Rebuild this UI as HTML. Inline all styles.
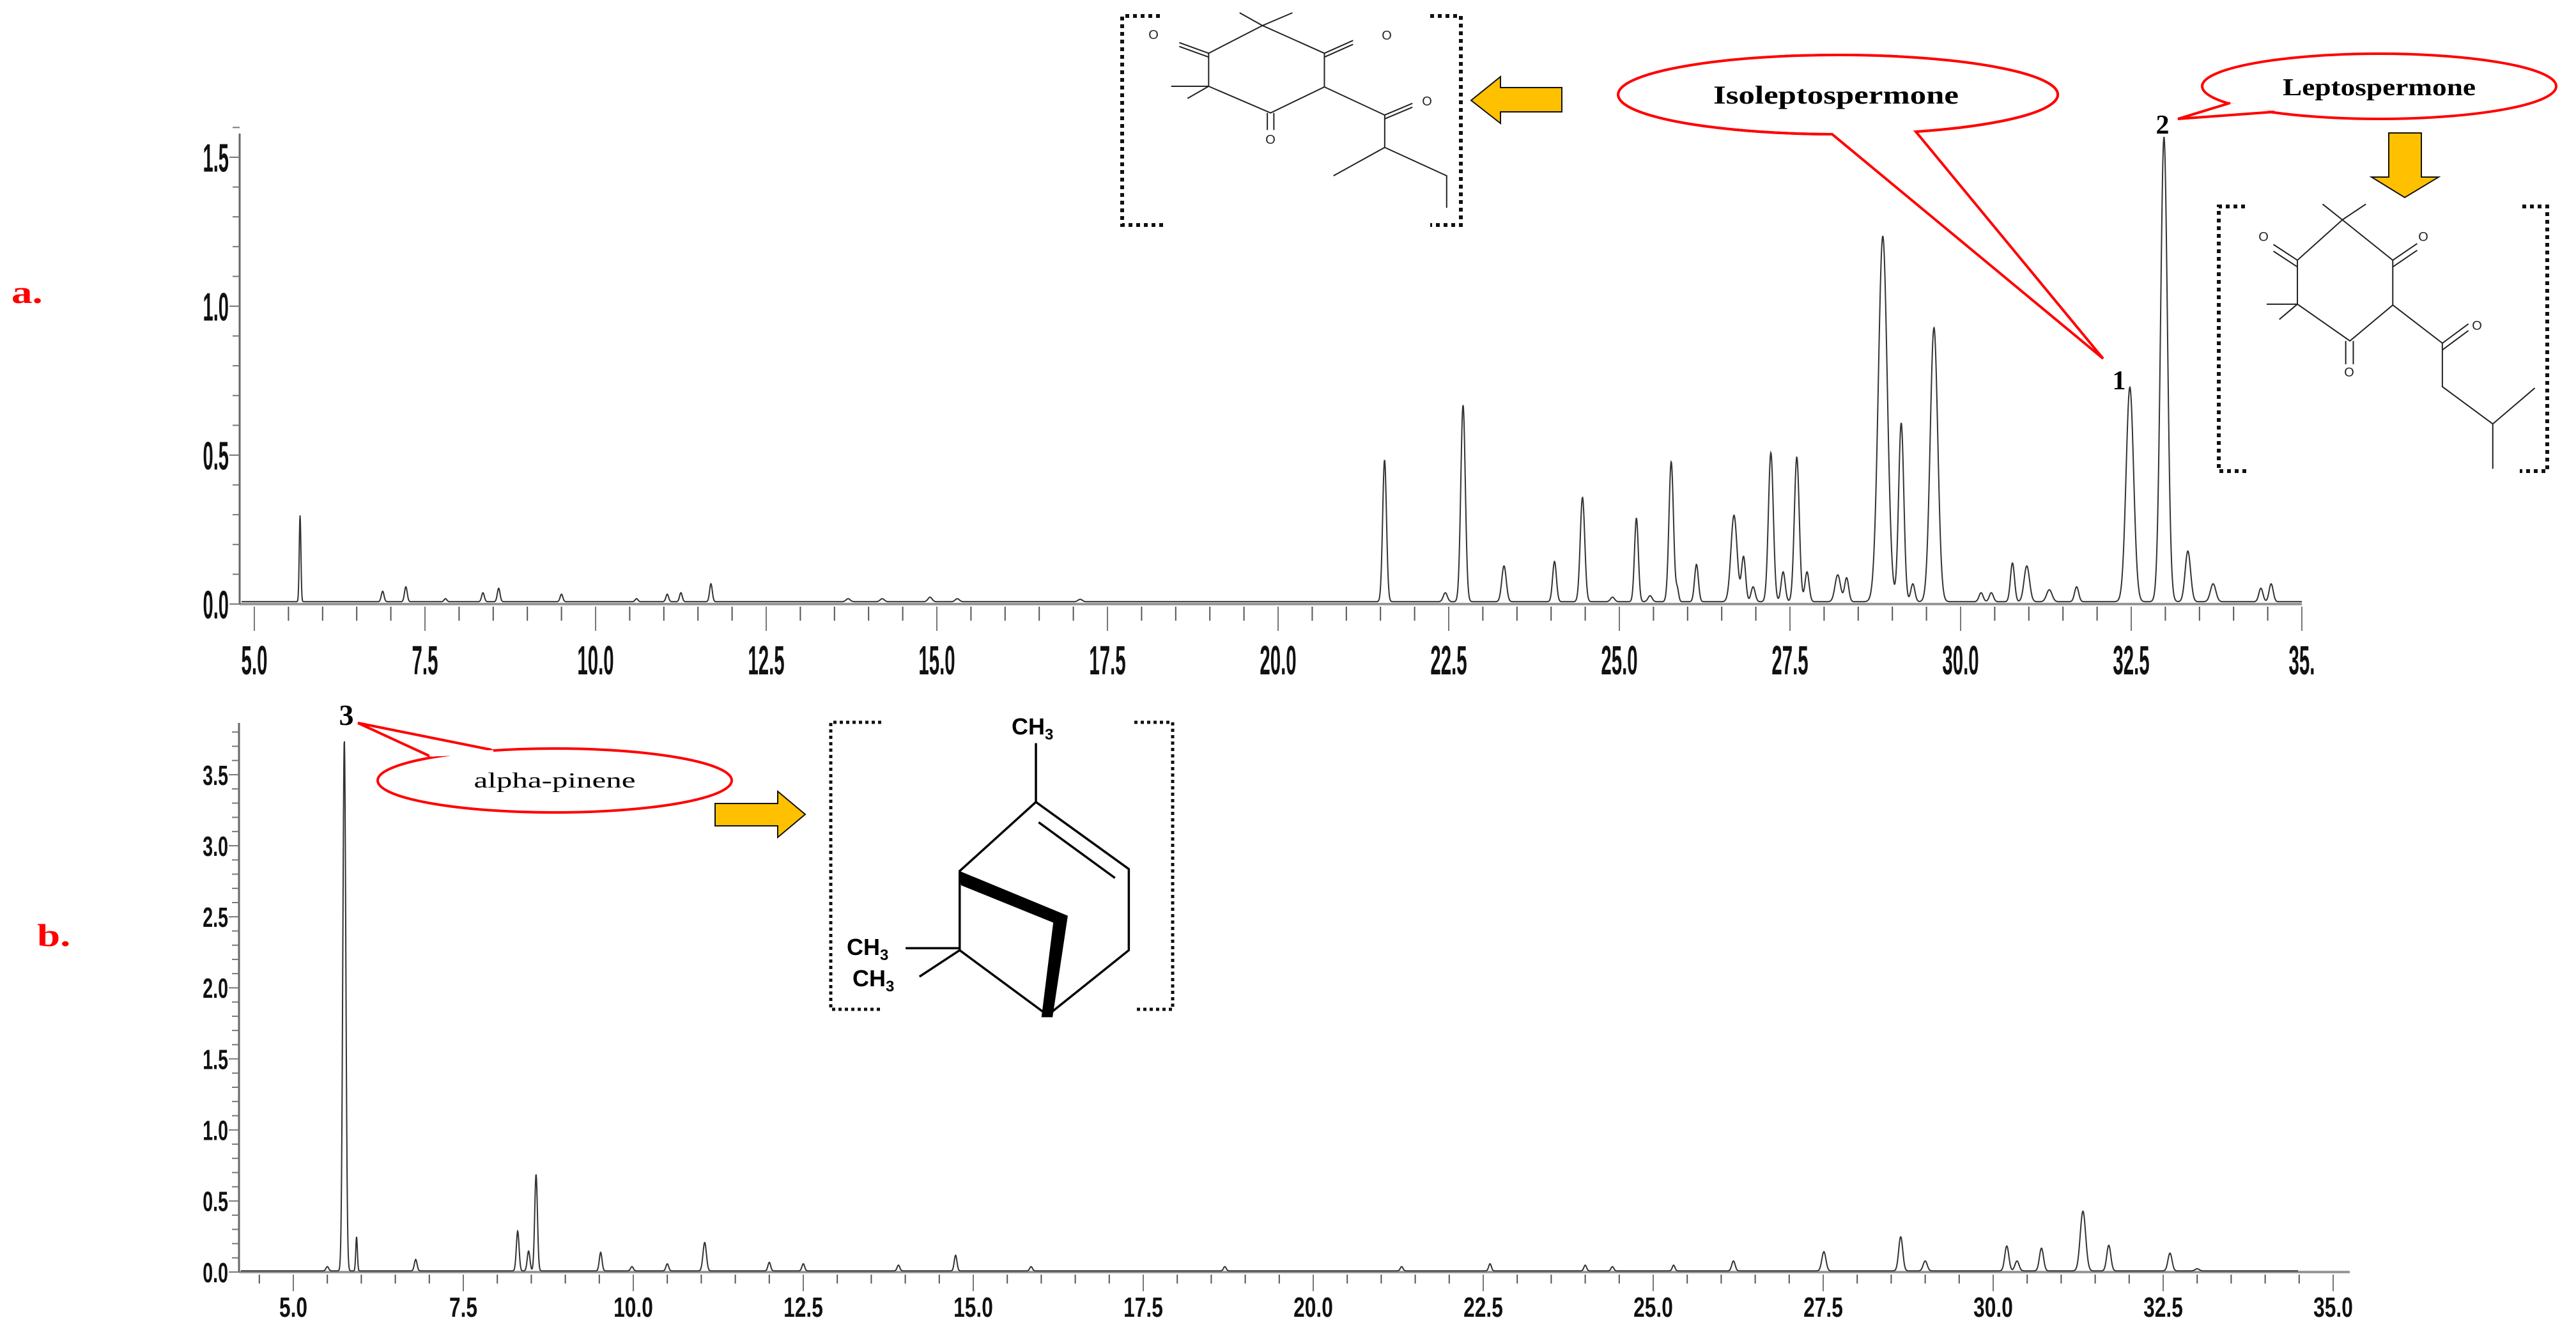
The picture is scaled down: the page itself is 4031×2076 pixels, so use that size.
<!DOCTYPE html>
<html><head><meta charset="utf-8"><style>
html,body{margin:0;padding:0;background:#fff;}
svg{display:block;}
.ax{font-family:"Liberation Sans",sans-serif;font-weight:bold;fill:#111;}
.sf{font-family:"Liberation Serif",serif;font-weight:bold;}
</style></head><body>
<svg id="s" xmlns="http://www.w3.org/2000/svg" width="4031" height="2076" viewBox="0 0 4031 2076">
<rect width="4031" height="2076" fill="#fff"/>
<g id="plots"></g>

<text class="sf" x="18" y="474" font-size="50" fill="#ff0000" transform="translate(18,474) scale(1.3,1) translate(-18,-474)">a.</text>
<text class="sf" x="58" y="1480" font-size="50" fill="#ff0000" transform="translate(58,1480) scale(1.3,1) translate(-58,-1480)">b.</text>

<g fill="none" stroke="#111" stroke-width="6" stroke-dasharray="6 6">
 <path d="M1815,25 L1756,25 L1756,352 L1822,352"/>
 <path d="M2238,25 L2286,25 L2286,352 L2238,352"/>
</g>
<g transform="translate(1700,0) scale(0.5102,0.3333)" fill="none" stroke="#222" stroke-width="2" vector-effect="non-scaling-stroke">
 <path vector-effect="non-scaling-stroke" d="M540,120 L375,250 L375,405 L565,530 L730,408 L730,250 Z"/>
 <path vector-effect="non-scaling-stroke" d="M470,60 L540,120 L632,60 M260,405 L375,405 M310,462 L375,405"/>
 <path vector-effect="non-scaling-stroke" d="M375,250 L285,200 M375,268 L285,218 M730,250 L818,190 M730,268 L818,208 M555,530 L555,610 M575,530 L575,610"/>
 <path vector-effect="non-scaling-stroke" d="M730,408 L915,540 M915,540 L1000,485 M915,558 L1000,503 M915,540 L915,692 L758,825 M915,692 L1105,825 L1105,975"/>
</g>
<g font-family="Liberation Sans,sans-serif" font-size="20" fill="#222" text-anchor="middle">
 <text x="1805" y="61">O</text><text x="2170" y="62">O</text><text x="1988" y="225">O</text><text x="2233" y="165">O</text>
</g>
<polygon points="2302,157 2348,120 2348,137 2444,137 2444,175 2348,175 2348,193" fill="#ffc000" stroke="#111" stroke-width="2"/>

<path d="M2867,210 A344,62 0 1 1 2998,206 L3291,561 Z" fill="#fff" stroke="#ff0000" stroke-width="4"/>
<ellipse cx="2872" cy="147" rx="342" ry="60" fill="#fff" stroke="none"/>
<path d="M2867,210 A344,62 0 1 1 2998,206" fill="none" stroke="#ff0000" stroke-width="4"/>
<text class="sf" x="2681" y="162" font-size="40" fill="#000" textLength="384" lengthAdjust="spacingAndGlyphs">Isoleptospermone</text>

<ellipse cx="3723" cy="135" rx="277" ry="51" fill="#fff" stroke="#ff0000" stroke-width="4"/>
<path d="M3490,161 L3408,186 L3559,175" fill="#fff" stroke="#ff0000" stroke-width="4"/>
<path d="M3488,156 L3565,171" stroke="#fff" stroke-width="6"/>
<text class="sf" x="3572" y="149" font-size="38" fill="#000" textLength="302" lengthAdjust="spacingAndGlyphs">Leptospermone</text>
<polygon points="3738,208 3789,208 3789,277 3816,277 3763,309 3711,277 3738,277" fill="#ffc000" stroke="#111" stroke-width="2"/>

<g fill="none" stroke="#111" stroke-width="6" stroke-dasharray="6 6">
 <path d="M3513,323 L3472,323 L3472,737 L3517,737"/>
 <path d="M3947,323 L3986,323 L3986,737 L3943,737"/>
</g>
<g transform="translate(3000,0) scale(0.6575,0.7018)" fill="none" stroke="#222">
 <path vector-effect="non-scaling-stroke" stroke-width="2" d="M1012,490 L1132,580 L1132,680 L1030,760 L905,678 L905,580 Z"/>
 <path vector-effect="non-scaling-stroke" stroke-width="2" d="M965,455 L1012,490 L1068,455 M832,678 L905,678 M862,712 L905,678"/>
 <path vector-effect="non-scaling-stroke" stroke-width="2" d="M905,580 L848,545 M905,595 L848,560 M1132,580 L1190,543 M1132,595 L1190,558 M1020,760 L1020,812 M1038,760 L1038,812"/>
 <path vector-effect="non-scaling-stroke" stroke-width="2" d="M1132,680 L1250,765 M1250,765 L1312,722 M1250,780 L1312,737 M1250,765 L1250,862 L1370,945 L1470,865 M1370,945 L1370,1045"/>
</g>
<g font-family="Liberation Sans,sans-serif" font-size="20" fill="#222" text-anchor="middle">
 <text x="3542" y="377">O</text><text x="3792" y="377">O</text><text x="3676" y="589">O</text><text x="3876" y="516">O</text>
</g>

<text class="sf" x="3384" y="209" font-size="42" fill="#000" text-anchor="middle">2</text>
<text class="sf" x="3316" y="609" font-size="42" fill="#000" text-anchor="middle">1</text>
<text class="sf" x="542" y="1134" font-size="46" fill="#000" text-anchor="middle">3</text>

<ellipse cx="868" cy="1221" rx="277" ry="50" fill="#fff" stroke="#ff0000" stroke-width="4"/>
<path d="M675,1184 L560,1131 L769,1173" fill="#fff" stroke="#ff0000" stroke-width="4"/>
<path d="M672,1180 L772,1177" stroke="#fff" stroke-width="7"/>
<text x="868" y="1232" font-family="Liberation Serif,serif" font-size="34" fill="#000" text-anchor="middle" textLength="253" lengthAdjust="spacingAndGlyphs">alpha-pinene</text>
<polygon points="1119,1257 1217,1257 1217,1238 1260,1274 1217,1310 1217,1292 1119,1292" fill="#ffc000" stroke="#111" stroke-width="2"/>

<g fill="none" stroke="#111" stroke-width="5" stroke-dasharray="5 5">
 <path d="M1379,1130 L1300,1130 L1300,1579 L1379,1579"/>
 <path d="M1775,1130 L1835,1130 L1835,1579 L1775,1579"/>
</g>
<g transform="translate(300,1080) scale(1.0846,0.6353)" fill="none" stroke="#000">
 <path vector-effect="non-scaling-stroke" stroke-width="3.5" d="M1218,130 L1218,275 L1352,440 L1352,640 L1235,800 L1108,640 L1108,445 L1218,275 M1222,325 L1332,462 M1030,635 L1108,635 M1050,705 L1108,640"/>
 <polygon points="1108,445 1110,480 1243,572 1226,805 1242,805 1264,555" fill="#000" stroke="none"/>
</g>
<g font-family="Liberation Sans,DejaVu Sans,sans-serif" font-size="36" font-weight="bold" fill="#000">
 <text x="1583" y="1149">CH<tspan font-size="24" dy="8">3</tspan></text>
 <text x="1325" y="1494">CH<tspan font-size="24" dy="8">3</tspan></text>
 <text x="1334" y="1543">CH<tspan font-size="24" dy="8">3</tspan></text>
</g>
</svg>
<script>
(function(){
var NS="http://www.w3.org/2000/svg",g=document.getElementById("plots");
function el(n,a,p){var e=document.createElementNS(NS,n);for(var k in a)e.setAttribute(k,a[k]);(p||g).appendChild(e);return e;}
function txt(s,x,y,fs,sx,anchor){var t=el("text",{"class":"ax","font-size":fs,"text-anchor":anchor,transform:"translate("+x+","+y+") scale("+sx+",1)"});t.textContent=s;}
function chart(o){
 var X=function(t){return o.x0+(t-5)*o.px;},Y=function(v){return o.by-v*o.py;};
 var d="",first=true;
 for(var x=o.tx0;x<=o.tx1;x+=0.5){var t=5+(x-o.x0)/o.px,v=0.008;
  for(var i=0;i<o.peaks.length;i++){var p=o.peaks[i],z=(t-p[0])/p[2];if(Math.abs(z)<6)v+=p[1]*Math.exp(-0.5*z*z);}
  d+=(first?"M":"L")+x.toFixed(1)+","+Y(v).toFixed(1);first=false;}
 el("line",{x1:o.ax,y1:o.by,x2:o.ax1,y2:o.by,stroke:"#999",'stroke-width':4});
 el("line",{x1:o.ax,y1:o.ytop,x2:o.ax,y2:o.by,stroke:"#666",'stroke-width':3});
 el("path",{d:d,fill:"none",stroke:"#333",'stroke-width':2});
 for(var t=o.t0;t<=35.001;t+=0.5){var x=X(t),maj=Math.abs(t/2.5-Math.round(t/2.5))<1e-6;
  el("line",{x1:x,y1:o.by+4,x2:x,y2:o.by+(maj?o.tl:o.ts),stroke:maj?"#777":"#555",'stroke-width':2});
  if(maj&&t>=5){var s=t.toFixed(1);if(o.last&&t>34.9)s=o.last;txt(s,x,o.lbY,o.xfs,o.xsx,"middle");}}
 for(var v=0;v<=o.vmax+1e-6;v+=0.1){var y=Y(v),maj=Math.abs(v*2-Math.round(v*2))<1e-6;
  el("line",{x1:o.ax-(maj?16:11),y1:y,x2:o.ax,y2:y,stroke:"#777",'stroke-width':2});
  if(maj)txt(v.toFixed(1),o.ax-17,y+o.yfs*0.36,o.yfs,o.ysx,"end");}
}
chart({x0:398,px:106.8,by:945,py:466,tx0:378,tx1:3602,ax:375,ax1:3602,ytop:209,t0:5,tl:42,ts:26,lbY:1055,xfs:64,xsx:0.46,vmax:1.6,yfs:62,ysx:0.47,last:"35.",
peaks:[[5.67,.29,.012],[6.88,.035,.02],[7.22,.05,.02],[7.8,.01,.02],[8.35,.03,.02],[8.58,.045,.02],[9.5,.025,.02],[10.6,.01,.02],[11.05,.025,.02],[11.25,.03,.02],[11.69,.06,.02],[13.7,.01,.03],[14.2,.01,.03],[14.9,.015,.03],[15.3,.01,.03],[17.1,.008,.03],[21.56,.476,.028],[22.45,.03,.03],[22.71,.66,.033],[23.31,.12,.033],[24.05,.135,.028],[24.46,.35,.033],[24.9,.015,.03],[25.25,.28,.028],[25.45,.02,.03],[25.76,.47,.033],[25.85,.04,.02],[26.13,.125,.028],[26.68,.29,.045],[26.82,.15,.03],[26.96,.05,.03],[27.22,.5,.036],[27.40,.1,.03],[27.6,.485,.036],[27.75,.1,.03],[28.2,.09,.04],[28.33,.08,.03],[28.86,1.227,.065],[29.13,.6,.038],[29.3,.06,.03],[29.61,.92,.055],[30.3,.03,.03],[30.45,.03,.03],[30.76,.13,.03],[30.97,.12,.04],[31.3,.04,.04],[31.7,.05,.03],[32.48,.72,.055],[32.98,1.56,.05],[33.33,.17,.04],[33.7,.06,.04],[34.4,.045,.03],[34.55,.06,.03]]});
chart({x0:459,px:106.4,by:1990,py:222.3,tx0:377,tx1:3596,ax:374,ax1:3677,ytop:1131,t0:4.5,tl:30,ts:18,lbY:2060,xfs:44,xsx:0.72,vmax:3.8,yfs:44,ysx:0.65,
peaks:[[5.5,.03,.02],[5.75,3.74,.022],[5.93,.24,.012],[6.8,.08,.02],[8.3,.28,.02],[8.46,.14,.02],[8.57,.68,.02],[9.52,.13,.02],[9.98,.03,.02],[10.5,.05,.02],[11.05,.2,.025],[12.0,.06,.02],[12.5,.05,.02],[13.9,.04,.02],[14.74,.11,.02],[15.85,.03,.02],[18.7,.03,.02],[21.3,.03,.02],[22.6,.05,.02],[24.0,.04,.02],[24.4,.03,.02],[25.3,.04,.02],[26.18,.07,.025],[27.51,.135,.03],[28.64,.24,.03],[29.0,.07,.03],[30.2,.175,.03],[30.35,.07,.03],[30.71,.16,.03],[31.32,.42,.04],[31.7,.18,.03],[32.6,.125,.03],[33.0,.015,.03]]});
})();
</script>
</body></html>
